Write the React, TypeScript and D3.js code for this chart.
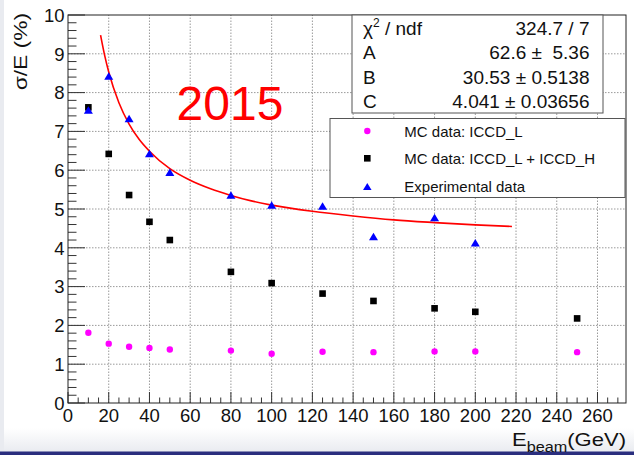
import React from 'react';
import * as d3 from 'd3';

// beam energies (GeV) and sigma/E (%)
const energies = [10, 20, 30, 40, 50, 80, 100, 125, 150, 180, 200, 250];
const mcIccdL = [1.81, 1.53, 1.45, 1.42, 1.38, 1.35, 1.27, 1.32, 1.31, 1.33, 1.33, 1.31];
const mcIccdLH = [7.62, 6.42, 5.36, 4.67, 4.2, 3.38, 3.09, 2.82, 2.63, 2.44, 2.35, 2.18];
const expEnergies = [10, 20, 30, 40, 50, 80, 100, 125, 150, 180, 200];
const expData = [7.55, 8.43, 7.33, 6.43, 5.95, 5.36, 5.1, 5.08, 4.29, 4.78, 4.13];

// fitted curve, sampled from the drawn red line
const fitEnergies = [16, 18, 20, 25, 30, 35, 40, 50, 60, 70, 80, 90, 100, 120, 140, 160, 180, 200, 218];
const fitValues = [9.48, 8.96, 8.53, 7.74, 7.19, 6.79, 6.49, 6.04, 5.74, 5.52, 5.35, 5.21, 5.1, 4.94, 4.82, 4.72, 4.65, 4.59, 4.55];

const xTickLabels = [0, 20, 40, 60, 80, 100, 120, 140, 160, 180, 200, 220, 240, 260];
const yTickLabels = [0, 1, 2, 3, 4, 5, 6, 7, 8, 9, 10];

const statNames = ['A', 'B', 'C'];
const statValues = ['324.7 / 7', '62.6 \u00b1  5.36', '30.53 \u00b1 0.5138', '4.041 \u00b1 0.03656'];
const legendLabels = ['MC data: ICCD_L', 'MC data: ICCD_L + ICCD_H', 'Experimental data'];

const W = 634;
const H = 455;
const font = '"Liberation Sans", Arial, Helvetica, sans-serif';

export default function App() {
  const x = d3.scaleLinear().domain([0, 274]).range([68, 626]);
  const y = d3.scaleLinear().domain([0, 10]).range([403, 15]);

  const xMinor = d3.range(0, 275, 5).filter(v => v % 20 !== 0);
  const yMinor = d3.range(0, 50).map(i => i * 0.2).filter((_, i) => i % 5 !== 0);

  const fitLine = d3.line<number>()
    .x((_, i) => x(fitEnergies[i]))
    .y(d => y(d))
    .curve(d3.curveMonotoneX)(fitValues);

  const tri = (cx: number, cy: number, w = 9, h = 7.5) =>
    `M${cx},${cy - h / 2}L${cx + w / 2},${cy + h / 2}L${cx - w / 2},${cy + h / 2}Z`;

  const [x0, x1] = x.range();
  const [yb, yt] = y.range();

  return (
    <div style={{ position: 'absolute', left: 0, top: 0 }}>
      <svg width={W} height={H} fontFamily={font} style={{ display: 'block' }}>
        <defs>
          <linearGradient id="bottomFade" x1="0" y1="0" x2="0" y2="1">
            <stop offset="0" stopColor="#ffffff" />
            <stop offset="1" stopColor="#e9ebf0" />
          </linearGradient>
        </defs>
        <rect width={W} height={H} fill="#fff" />
        <rect x={0} y={428} width={W} height={24} fill="url(#bottomFade)" />
        <rect x={0} y={0} width={4} height={H} fill="#e9ebf0" />
        <rect x={0} y={451.5} width={W} height={4} fill="#2a2e7e" />

        {/* grid */}
        <g stroke="#9a9a9a" strokeWidth={1} strokeDasharray="1.5 1.5">
          {xTickLabels.filter(v => v > 0).map(v => (
            <line key={'gx' + v} x1={x(v)} x2={x(v)} y1={yb} y2={yt} />
          ))}
          {yTickLabels.filter(v => v > 0 && v < 10).map(v => (
            <line key={'gy' + v} x1={x0} x2={x1} y1={y(v)} y2={y(v)} />
          ))}
        </g>

        {/* ticks */}
        <g stroke="#333" strokeWidth={1}>
          {xTickLabels.map(v => (
            <line key={'tx' + v} x1={x(v)} x2={x(v)} y1={yb} y2={yb - 11} />
          ))}
          {xMinor.map(v => (
            <line key={'mx' + v} x1={x(v)} x2={x(v)} y1={yb} y2={yb - 5.5} />
          ))}
          {yTickLabels.map(v => (
            <line key={'ty' + v} x1={x0} x2={x0 + 17} y1={y(v)} y2={y(v)} />
          ))}
          {yMinor.map(v => (
            <line key={'my' + v} x1={x0} x2={x0 + 8.5} y1={y(v)} y2={y(v)} />
          ))}
        </g>
        <rect x={x0} y={yt} width={x1 - x0} height={yb - yt} fill="none" stroke="#222" strokeWidth={1} />

        {/* tick labels */}
        <g fontSize={18.5} fill="#111">
          {xTickLabels.map(v => (
            <text key={'lx' + v} x={x(v)} y={421.7} textAnchor="middle">{v}</text>
          ))}
          {yTickLabels.map(v => (
            <text key={'ly' + v} x={64.5} y={y(v) + 6.8} textAnchor="end">{v}</text>
          ))}
        </g>

        {/* axis titles */}
        <text transform="translate(626,445.7) scale(1.16,1)" textAnchor="end" fontSize={19} fill="#111">
          E<tspan fontSize={14} dy={6}>beam</tspan><tspan dy={-6}>(GeV)</tspan>
        </text>
        <text transform="translate(27,13) rotate(-90) scale(1.2,1)" textAnchor="end" fontSize={19} fill="#111">
          σ/E (%)
        </text>

        {/* fit */}
        <path d={fitLine || ''} fill="none" stroke="#ff0000" strokeWidth={1.6} />

        {/* data */}
        <g fill="#ff00ff">
          {energies.map((e, i) => (
            <circle key={'c' + e} cx={x(e)} cy={y(mcIccdL[i])} r={3.2} />
          ))}
        </g>
        <g fill="#000">
          {energies.map((e, i) => (
            <rect key={'s' + e} x={x(e) - 3.3} y={y(mcIccdLH[i]) - 3.3} width={6.6} height={6.6} />
          ))}
        </g>
        <g fill="#0000ff">
          {expEnergies.map((e, i) => (
            <path key={'t' + e} d={tri(x(e), y(expData[i]))} />
          ))}
        </g>

        <text x={230} y={120} textAnchor="middle" fontSize={48} fill="#ff0000">2015</text>

        {/* stats box */}
        <rect x={352} y={15} width={251} height={98} fill="#fff" stroke="#555" strokeWidth={1} />
        <g fontSize={19} fill="#111">
          <text x={363} y={34.5}>
            χ<tspan fontSize={12} dy={-8}>2</tspan><tspan dy={8}> / ndf</tspan>
          </text>
          {statNames.map((n, i) => (
            <text key={n} x={363} y={59 + i * 24.6}>{n}</text>
          ))}
          {statValues.map((v, i) => (
            <text key={'v' + i} x={589.5} y={34.5 + i * 24.6} textAnchor="end" style={{ whiteSpace: 'pre' }}>{v}</text>
          ))}
        </g>

        {/* legend */}
        <rect x={330} y={118.5} width={295} height={79} fill="#fff" stroke="#555" strokeWidth={1} />
        <circle cx={367.3} cy={131} r={3.2} fill="#ff00ff" />
        <rect x={364} y={155} width={6.6} height={6.6} fill="#000" />
        <path d={tri(367.3, 186.5, 8.5, 7)} fill="#0000ff" />
        <g fontSize={15} fill="#111">
          {legendLabels.map((l, i) => (
            <text key={l} x={404.3} y={136.5 + i * 27.5}>{l}</text>
          ))}
        </g>
      </svg>
    </div>
  );
}
